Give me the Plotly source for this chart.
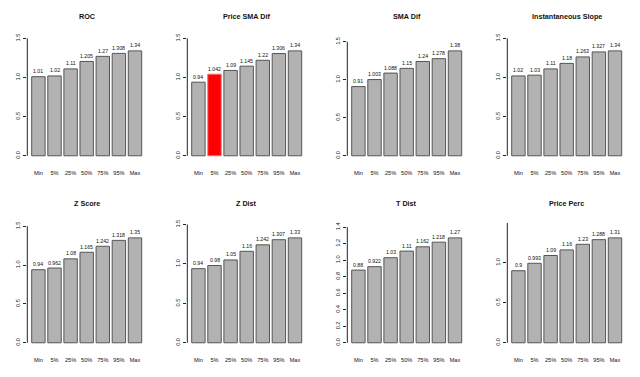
import plotly.graph_objects as go

categories = ["Min", "5%", "25%", "50%", "75%", "95%", "Max"]
titles = ["ROC", "Price SMA Dif", "SMA Dif", "Instantaneous Slope",
          "Z Score", "Z Dist", "T Dist", "Price Perc"]
roc = [1.01, 1.02, 1.11, 1.205, 1.27, 1.308, 1.34]
price_sma_dif = [0.94, 1.042, 1.09, 1.145, 1.22, 1.306, 1.34]
sma_dif = [0.91, 1.003, 1.088, 1.15, 1.24, 1.278, 1.38]
inst_slope = [1.02, 1.03, 1.11, 1.18, 1.263, 1.327, 1.34]
z_score = [0.94, 0.962, 1.08, 1.165, 1.242, 1.318, 1.35]
z_dist = [0.94, 0.98, 1.05, 1.16, 1.242, 1.307, 1.33]
t_dist = [0.88, 0.922, 1.03, 1.11, 1.162, 1.218, 1.27]
price_perc = [0.9, 0.993, 1.09, 1.16, 1.23, 1.288, 1.31]
series = [roc, price_sma_dif, sma_dif, inst_slope, z_score, z_dist, t_dist, price_perc]
ticks_half = [0.0, 0.5, 1.0, 1.5]
ticks_fifth = [0.0, 0.2, 0.4, 0.6, 0.8, 1.0, 1.2, 1.4]
yticks = [ticks_half, ticks_half, ticks_half, ticks_half,
          ticks_half, ticks_half, ticks_fifth, ticks_half]
highlight = {1: 1}  # panel index -> bar index drawn in red

W, H = 640, 377
FONT = "Liberation Sans, Arial, sans-serif"
GRAY = "#b2b2b2"
RED = "#ff0000"

fig = go.Figure()
for i, (vals, title, yt) in enumerate(zip(series, titles, yticks)):
    r, c = divmod(i, 4)
    ax = "" if i == 0 else str(i + 1)
    x0 = c * 160 + 27.3
    x1 = c * 160 + 146.1
    top = 33.05 + r * 188.5
    bot = 158.65 + r * 188.5
    colors = [GRAY] * len(vals)
    lines = ["#555555"] * len(vals)
    if i in highlight:
        colors[highlight[i]] = RED
        lines[highlight[i]] = "#f07070"
    fig.add_trace(go.Bar(
        x=list(range(len(categories))), y=vals, width=1 / 1.2,
        marker=dict(color=colors, line=dict(color=lines, width=1)),
        xaxis="x" + ax, yaxis="y" + ax, showlegend=False, hoverinfo="skip",
    ))
    M = 1.1 * max(vals)
    fig.update_layout(**{
        "xaxis" + ax: dict(
            domain=[x0 / W, x1 / W], anchor="y" + ax,
            range=[-0.69, 6.69], tickmode="array",
            tickvals=list(range(len(categories))), ticktext=categories,
            showgrid=False, zeroline=False, showline=False, ticks="",
            tickfont=dict(size=5.6, color="#111", family=FONT),
            ticklabelstandoff=8,
        ),
        "yaxis" + ax: dict(
            domain=[1 - bot / H, 1 - top / H], anchor="x" + ax,
            range=[-0.04 * M, 1.04 * M], tickmode="array",
            tickvals=yt, tickformat=".1f",
            showgrid=False, zeroline=False, showline=False,
            ticks="outside", ticklen=3, tickcolor="#222", tickwidth=1,
            tickangle=-90, ticklabelstandoff=1,
            tickfont=dict(size=5.6, color="#111", family=FONT),
        ),
    })
    fig.add_shape(type="line", xref="x" + ax + " domain", yref="y" + ax,
                  x0=0, x1=0, y0=yt[0], y1=yt[-1],
                  line=dict(color="#222", width=1))
    for j, v in enumerate(vals):
        fig.add_annotation(x=j, y=v, xref="x" + ax, yref="y" + ax,
                           text=f"{v:g}", showarrow=False, yanchor="bottom",
                           yshift=1.5, borderpad=0,
                           font=dict(size=5.2, color="#111", family=FONT))
    fig.add_annotation(x=(x0 + x1) / 2 / W, y=1 - (14 + r * 188.5) / H,
                       xref="paper", yref="paper", text=f"<b>{title}</b>",
                       showarrow=False, yanchor="middle", xanchor="center",
                       font=dict(size=7.2, color="#111", family=FONT))

fig.update_layout(
    width=W, height=H, margin=dict(l=0, r=0, t=0, b=0),
    paper_bgcolor="white", plot_bgcolor="white", bargap=0,
)
fig.write_html("out.html",
               config={"displayModeBar": False, "staticPlot": True},
               post_script="document.body.style.margin='0px';"
                           "document.body.style.overflow='hidden';")
